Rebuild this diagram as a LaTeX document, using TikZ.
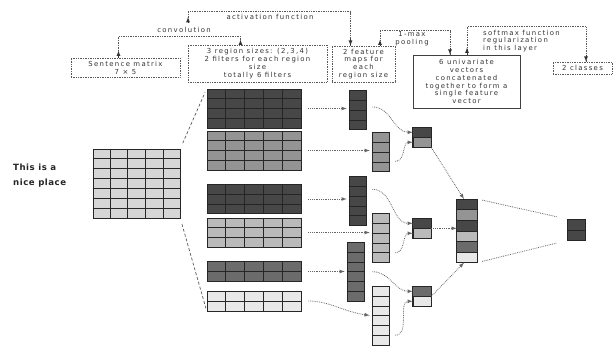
\documentclass[tikz,border=0pt]{standalone}
\usepackage{fontspec}
\newfontfamily\lblfont{DejaVu Sans}[LetterSpace=19]
\newfontfamily\bigfont{DejaVu Sans}[LetterSpace=6]
\usepackage{tikz}
\usetikzlibrary{calc}
\usetikzlibrary{shapes.geometric, arrows, positioning}

\colorlet{cdark}{black!72}
\colorlet{cmd}{black!58}
\colorlet{cmid}{black!42}
\colorlet{clight}{black!27}
\colorlet{cpale}{black!9}

\begin{document}
\begin{tikzpicture}[x=1pt, y=-1pt]
    \useasboundingbox (0,0) rectangle (616,348);
    % styles for the labels and the brackets above the network
    \tikzstyle{txt} = [font=\lblfont\fontsize{6.9}{7.9}\selectfont, text=black!80, align=center, inner sep=0pt]
    \tikzstyle{lbox} = [txt, draw=black!65, densely dotted, line width=0.7pt]
    \tikzstyle{brk} = [draw=black!65, densely dotted, line width=0.7pt]
    \tikzstyle{brktip} = [draw=black!80, line width=0.8pt, -latex]

    % label boxes
    \node[lbox, minimum width=109pt, minimum height=19pt] (Sm) at (125.5, 67.5) {Sentence matrix\\7 × 5};
    \node[lbox, minimum width=139pt, minimum height=37pt] (Rg) at (257.5, 63.5) {3 region sizes: (2,3,4)\\2 filters for each region\\size\\totally 6 filters};
    \node[lbox, minimum width=63pt, minimum height=36pt] (Mp) at (363.5, 64) {2 feature\\maps for\\each\\region size};
    \node[txt, draw=black!75, line width=0.8pt, minimum width=107pt, minimum height=53pt] (Uv) at (466.5, 81.5) {6 univariate\\vectors\\concatenated\\together to form a\\single feature\\vector};
    \node[lbox, minimum width=59pt, minimum height=12pt] (Cl) at (582.5, 68) {2 classes};

    % free texts
    \node[txt] (conv) at (184, 30) {convolution};
    \node[txt] (act) at (270, 17) {activation function};
    \node[txt] (pool) at (412, 39) {1-max\\pooling};
    \node[txt, anchor=west, align=left] (soft) at (483, 41) {softmax function\\regularization\\in this layer};
    \node[font=\bigfont\bfseries\fontsize{8.6}{14.5}\selectfont, text=black!85, align=left, anchor=west, inner sep=0pt] (sent) at (13, 175.5) {This is a\\nice place};

    % brackets: convolution
    \draw[brk] ($(Sm.north)+(-7,0)$) |- ($(conv.south)+(0,3.5)$) -| ($(Rg.north)+(-17,0)$);
    \draw[brktip] ($(Sm.north)+(-7,0)$) -- ++(0,-7);
    \draw[brktip] ($(Rg.north)+(-17,0)$) -- ++(0,-5);
    % activation function
    \draw[brk] ($(conv.north)+(4,-4)$) |- ($(act.north)+(0,-2.5)$) -| ($(Mp.north)+(-13,0)$);
    \draw[brktip] ($(conv.north)+(4,-4)$) -- ++(0,-6);
    \draw[brktip] ($(Mp.north)+(-13,-7)$) -- ($(Mp.north)+(-13,0)$);
    % 1-max pooling
    \draw[brk] ($(Mp.north)+(16.5,0)$) |- ($(pool.north)+(0,-1)$) -| ($(Uv.north)+(-16.5,0)$);
    \draw[brktip] ($(Mp.north)+(16.5,0)$) -- ++(0,-6);
    \draw[brktip] ($(Uv.north)+(-16.5,-7)$) -- ($(Uv.north)+(-16.5,0)$);
    % softmax
    \draw[brk] ($(Uv.north)+(0.5,0)$) |- ($(soft.north)+(0,-3)$) -| ($(Cl.north)+(3.5,0)$);
    \draw[brktip] ($(Uv.north)+(0.5,0)$) -- ++(0,-7);
    \draw[brktip] ($(Cl.north)+(3.5,-7)$) -- ($(Cl.north)+(3.5,0)$);

    % styles for the grids and the connectors
    \tikzstyle{gridbox} = [draw=black!85, line width=0.6pt, inner sep=0pt]
    \tikzstyle{gridline} = [draw=black!85, line width=0.5pt]
    \tikzstyle{link} = [draw=black!60, densely dotted, line width=0.8pt]
    \tikzstyle{flow} = [link, -latex]

    % sentence matrix and the six filters
    \node[gridbox, fill=black!16, minimum width=87pt, minimum height=69pt] (S) at (136.5, 183.5) {};
    \foreach \n/\yc/\r/\col in {F1/108.5/4/cdark, F2/150.5/4/cmid, F3/199/3/cdark, F4/232.5/3/clight, F5/271.5/2/cmd, F6/301/2/cpale} {
        \node[gridbox, fill=\col, minimum width=94pt, minimum height=\r*9.8pt] (\n) at (254, \yc) {};
    }
    % grid lines of the matrix and filters (5 columns each)
    \foreach \n/\r in {S/7, F1/4, F2/4, F3/3, F4/3, F5/2, F6/2} {
        \foreach \i in {1, 2, ..., 4} {
            \draw[gridline] ($(\n.north west)!{\i/5}!(\n.north east)$) -- ($(\n.south west)!{\i/5}!(\n.south east)$);
        }
        \pgfmathtruncatemacro{\rr}{\r-1}
        \foreach \j in {1, ..., \rr} {
            \draw[gridline] ($(\n.north west)!{\j/\r}!(\n.south west)$) -- ($(\n.north east)!{\j/\r}!(\n.south east)$);
        }
    }

    % feature maps
    \foreach \n/\xc/\yt/\r/\col in {M1/357.5/90/4/cdark, M2/380.5/132/4/cmid, M3/357.5/176/5/cdark, M4/380.5/213/5/clight, M5/355.5/242/6/cmd, M6/380.5/286/6/cpale} {
        \node[gridbox, fill=\col, minimum width=17pt, minimum height=\r*9.8pt, anchor=north] (\n) at (\xc, \yt) {};
        \pgfmathtruncatemacro{\rr}{\r-1}
        \foreach \j in {1, ..., \rr} {
            \draw[gridline] ($(\n.north west)!{\j/\r}!(\n.south west)$) -- ($(\n.north east)!{\j/\r}!(\n.south east)$);
        }
    }

    % pooled pairs (top cell from first filter, bottom cell from second)
    \foreach \n/\yt/\ca/\cb in {P1/127/cdark/cmid, P2/218/cdark/clight, P3/286/cmd/cpale} {
        \node[gridbox, fill=\cb, minimum width=18pt, minimum height=20pt, anchor=north] (\n) at (422, \yt) {};
        \fill[\ca] (\n.north west) rectangle (\n.east);
        \draw[gridline] (\n.west) -- (\n.east);
        \draw[gridbox] (\n.north west) rectangle (\n.south east);
    }

    % concatenated vector
    \node[gridbox, minimum width=20pt, minimum height=63pt, anchor=north] (C) at (467, 199) {};
    \foreach \k/\col in {1/cdark, 2/cmid, 3/cdark, 4/clight, 5/cmd, 6/cpale} {
        \fill[\col] ($(C.north west)!{(\k-1)/6}!(C.south west)$) rectangle ($(C.north east)!{\k/6}!(C.south east)$);
    }
    \foreach \j in {1, ..., 5} {
        \draw[gridline] ($(C.north west)!{\j/6}!(C.south west)$) -- ($(C.north east)!{\j/6}!(C.south east)$);
    }
    \draw[gridbox] (C.north west) rectangle (C.south east);

    % output
    \node[gridbox, fill=cdark, minimum width=18pt, minimum height=21pt, anchor=north] (O) at (576, 219) {};
    \draw[gridline] (O.west) -- (O.east);

    % matrix to filters
    \draw[densely dashed, draw=black!65, line width=0.7pt, shorten <=6pt, shorten >=4pt] (S.north east) -- (F1.north west);
    \draw[densely dashed, draw=black!65, line width=0.7pt, shorten <=6pt, shorten >=3pt] (S.south east) -- (F6.south west);

    % filters to feature maps
    \foreach \f/\m in {F1/M1, F2/M2, F3/M3, F4/M4, F5/M5} {
        \draw[flow, shorten <=7pt, shorten >=2pt] (\f.east) -- (\f.east -| \m.west);
    }
    \draw[flow, shorten <=7pt, shorten >=2pt] (F6.east) to[out=0, in=172] (M6.west);

    % feature maps to 1-max pooled cells
    \draw[flow] ($(M1.east)+(6,-3)$) to[out=0, in=180] ($(P1.west)+(0,-5)$);
    \draw[flow] ($(M2.east)+(6,9.5)$) to[out=0, in=180] ($(P1.west)+(0,5)$);
    \draw[flow] ($(M3.east)+(6,-11.5)$) to[out=0, in=180] ($(P2.west)+(0,-5)$);
    \draw[flow] ($(M4.east)+(6,15)$) to[out=0, in=180] ($(P2.west)+(0,5)$);
    \draw[flow] ($(M5.east)+(8,0)$) to[out=0, in=180] ($(P3.west)+(0,-5)$);
    \draw[flow] ($(M6.east)+(6,19.5)$) to[out=0, in=180] ($(P3.west)+(0,5)$);

    % pooled cells to the concatenated vector
    \draw[flow] (P1.south east) -- ($(C.north)+(-3,0)$);
    \draw[flow] (P2.east) -- (P2.east -| C.west);
    \draw[flow] (P3.east) -- ($(C.south)+(-3,0)$);

    % concatenated vector to the output
    \draw[link, shorten <=5pt, shorten >=10pt] (C.north east) -- (O.north west);
    \draw[link, shorten <=5pt, shorten >=10pt] (C.south east) -- (O.south west);

\end{tikzpicture}
\end{document}
